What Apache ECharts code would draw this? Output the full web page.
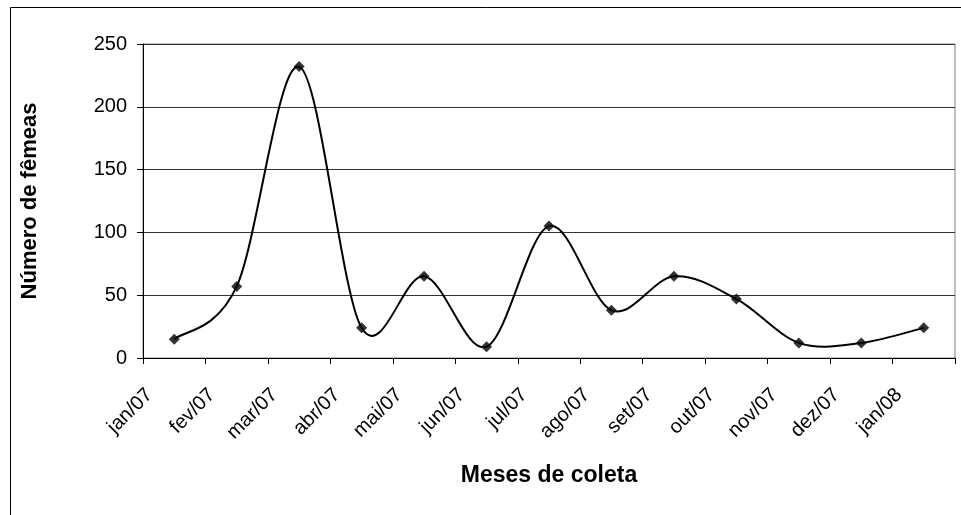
<!DOCTYPE html>
<html>
<head>
<meta charset="utf-8">
<script src="https://cdn.jsdelivr.net/npm/echarts@6/dist/echarts.min.js"></script>
<style>
  html, body { margin: 0; padding: 0; background: #fff; }
  #chart { width: 961px; height: 515px; }
</style>
</head>
<body>
<div id="chart"></div>
<script>
// meses de coleta
const meses = ['jan/07', 'fev/07', 'mar/07', 'abr/07', 'mai/07', 'jun/07', 'jul/07',
  'ago/07', 'set/07', 'out/07', 'nov/07', 'dez/07', 'jan/08']
// número de fêmeas por mês
const femeas = [15, 57, 232, 24, 65, 9, 105, 38, 65, 47, 12, 12, 24]
const yMin = 0
const yMax = 250
const yStep = 50

const myChart = echarts.init(document.getElementById('chart'))

// linha suavizada estilo Excel (catmull-rom, tangente = (p[i+1]-p[i-1])/6)
function renderCurva(params, api) {
  const i = params.dataIndex
  const n = femeas.length
  if (i >= n - 1) return null
  const pt = (k) => {
    const j = Math.max(0, Math.min(n - 1, k))
    return api.coord([j, femeas[j]])
  }
  const p0 = pt(i - 1)
  const p1 = pt(i)
  const p2 = pt(i + 1)
  const p3 = pt(i + 2)
  return {
    type: 'bezierCurve',
    shape: {
      x1: p1[0], y1: p1[1],
      x2: p2[0], y2: p2[1],
      cpx1: p1[0] + (p2[0] - p0[0]) / 6,
      cpy1: p1[1] + (p2[1] - p0[1]) / 6,
      cpx2: p2[0] - (p3[0] - p1[0]) / 6,
      cpy2: p2[1] - (p3[1] - p1[1]) / 6,
    },
    style: { fill: null, stroke: '#000', lineWidth: 2 },
    silent: true,
  }
}

myChart.setOption({
  animation: false,
  textStyle: { fontFamily: 'Liberation Sans, Arial, sans-serif' },
  graphic: [
    {
      // borda externa do gráfico (só aparece em cima e à esquerda)
      type: 'rect',
      shape: { x: 10.5, y: 7.5, width: 1000, height: 600 },
      style: { fill: 'none', stroke: '#000', lineWidth: 1 },
      silent: true,
    },
  ],
  grid: {
    left: 143,
    top: 44,
    right: 6,
    bottom: 157,
    show: true,
    borderColor: '#808080',
    borderWidth: 1,
  },
  xAxis: {
    type: 'category',
    data: meses,
    boundaryGap: true,
    name: 'Meses de coleta',
    nameLocation: 'middle',
    nameGap: 106,
    nameTextStyle: { fontSize: 23, fontWeight: 'bold', color: '#000' },
    axisLine: { lineStyle: { color: '#000', width: 1 } },
    axisTick: { show: true, length: 6, lineStyle: { color: '#000' } },
    axisLabel: {
      rotate: 45,
      interval: 0,
      margin: 9,
      padding: [0, 35, 0, 0],
      fontSize: 20,
      color: '#000',
    },
    splitLine: { show: false },
  },
  yAxis: {
    type: 'value',
    min: yMin,
    max: yMax,
    interval: yStep,
    name: 'Número de fêmeas',
    nameLocation: 'middle',
    nameGap: 102,
    nameTextStyle: { fontSize: 22, fontWeight: 'bold', color: '#000' },
    axisLine: { show: true, lineStyle: { color: '#000', width: 1 } },
    axisTick: { show: true, length: 6, lineStyle: { color: '#000' } },
    axisLabel: { fontSize: 20, color: '#000', margin: 16 },
    splitLine: { show: true, lineStyle: { color: '#333', width: 1 } },
  },
  series: [
    {
      type: 'custom',
      renderItem: renderCurva,
      data: femeas,
      z: 2,
    },
    {
      type: 'scatter',
      data: femeas,
      symbol: 'diamond',
      symbolSize: 11,
      itemStyle: { color: '#000' },
      z: 3,
    },
  ],
})
</script>
</body>
</html>
